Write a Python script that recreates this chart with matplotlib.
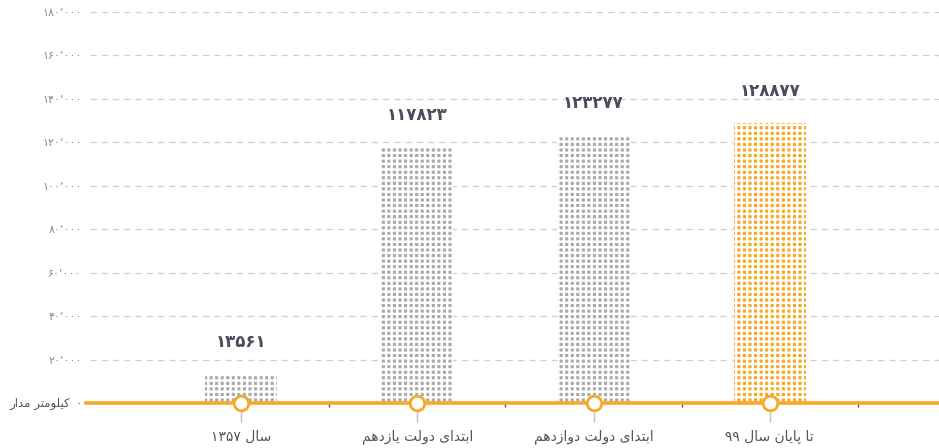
import re
import numpy as np
import matplotlib
matplotlib.use("Agg")
import matplotlib.pyplot as plt

# data
categories = ["سال ۱۳۵۷", "ابتدای دولت یازدهم", "ابتدای دولت دوازدهم", "تا پایان سال ۹۹"]
values = [13561, 117823, 123277, 128877]
value_labels = ["۱۳۵۶۱", "۱۱۷۸۲۳", "۱۲۳۲۷۷", "۱۲۸۸۷۷"]
yticks = [0, 20000, 40000, 60000, 80000, 100000, 120000, 140000, 160000, 180000]
ytick_labels = ["۰", "۲۰٬۰۰۰", "۴۰٬۰۰۰", "۶۰٬۰۰۰", "۸۰٬۰۰۰", "۱۰۰٬۰۰۰",
                "۱۲۰٬۰۰۰", "۱۴۰٬۰۰۰", "۱۶۰٬۰۰۰", "۱۸۰٬۰۰۰"]
unit_label = "کیلومتر مدار"

# presentation forms: isolated, final, initial, medial
FORMS = {
    'ا': ('\uFE8D', '\uFE8E', None, None),
    'ب': ('\uFE8F', '\uFE90', '\uFE91', '\uFE92'),
    'پ': ('\uFB56', '\uFB57', '\uFB58', '\uFB59'),
    'ت': ('\uFE95', '\uFE96', '\uFE97', '\uFE98'),
    'د': ('\uFEA9', '\uFEAA', None, None),
    'ر': ('\uFEAD', '\uFEAE', None, None),
    'ز': ('\uFEAF', '\uFEB0', None, None),
    'س': ('\uFEB1', '\uFEB2', '\uFEB3', '\uFEB4'),
    'ک': ('\uFB8E', '\uFB8F', '\uFB90', '\uFB91'),
    'ل': ('\uFEDD', '\uFEDE', '\uFEDF', '\uFEE0'),
    'م': ('\uFEE1', '\uFEE2', '\uFEE3', '\uFEE4'),
    'ن': ('\uFEE5', '\uFEE6', '\uFEE7', '\uFEE8'),
    'ه': ('\uFEE9', '\uFEEA', '\uFEEB', '\uFEEC'),
    'و': ('\uFEED', '\uFEEE', None, None),
    'ی': ('\uFBFC', '\uFBFD', '\uFBFE', '\uFBFF'),
}


def fa(text):
    # join letters, then put in visual (right to left) order
    out = []
    for i, c in enumerate(text):
        if c not in FORMS:
            out.append(c)
            continue
        iso, fin, ini, med = FORMS[c]
        prev = text[i - 1] if i > 0 else ''
        nxt = text[i + 1] if i + 1 < len(text) else ''
        jp = prev in FORMS and FORMS[prev][2] is not None
        jn = nxt in FORMS and ini is not None
        if jp and jn:
            out.append(med)
        elif jp:
            out.append(fin)
        elif jn:
            out.append(ini)
        else:
            out.append(iso)
    s = ''.join(out)[::-1]
    return re.sub('[۰-۹٬]+', lambda m: m.group(0)[::-1], s)


plt.rcParams['font.family'] = ['DejaVu Sans']
plt.rcParams['hatch.linewidth'] = 1.7

gray = '#ababab'
orange = '#f9a825'

fig = plt.figure(figsize=(9.39, 4.48), dpi=100)
ax = fig.add_axes([90 / 939, 45 / 448, 849 / 939, 391 / 448])

x = np.arange(len(categories))
colors = [gray, gray, gray, orange]
ax.bar(x, values, width=0.41, color=colors, edgecolor='white',
       linewidth=0, hatch='+++', zorder=2)

for xi, v, lab in zip(x, values, value_labels):
    ax.annotate(lab, (xi, v), xytext=(0, 23), textcoords='offset points',
                ha='center', va='center', fontsize=12, fontweight='bold',
                color='#4a4d5c')

ax.set_xlim(-0.857, 3.96)
ax.set_ylim(0, 180000)

ax.set_yticks(yticks)
ax.set_yticklabels(ytick_labels, fontsize=8, color='#8a8a8a')
ax.tick_params(axis='y', length=0, pad=6)
ax.yaxis.get_ticklabels()[0].set_color('#555555')
ax.yaxis.grid(True, linestyle=(0, (5, 4)), color='#cfcfcf', linewidth=0.9)
ax.set_axisbelow(True)

ax.set_xticks(x)
ax.set_xticklabels([fa(c) for c in categories], fontsize=10, color='#555555')
ax.tick_params(axis='x', which='major', length=14, width=1, color='#c4c4c4', pad=5)
ax.set_xticks(x + 0.5, minor=True)
ax.tick_params(axis='x', which='minor', length=3, width=1, color='#555555')

for s in ax.spines.values():
    s.set_visible(False)

ax.axhline(0, xmin=-0.005, xmax=1, color=orange, linewidth=2.6, zorder=4,
           clip_on=False)
ax.scatter(x, [0] * len(x), s=110, facecolor='white', edgecolor=orange,
           linewidth=2, zorder=6, clip_on=False)

fig.text(70 / 939, 1 - 403 / 448, fa(unit_label), ha='right', va='center',
         fontsize=8.5, color='#555555')

fig.savefig('out.png', dpi=100)
